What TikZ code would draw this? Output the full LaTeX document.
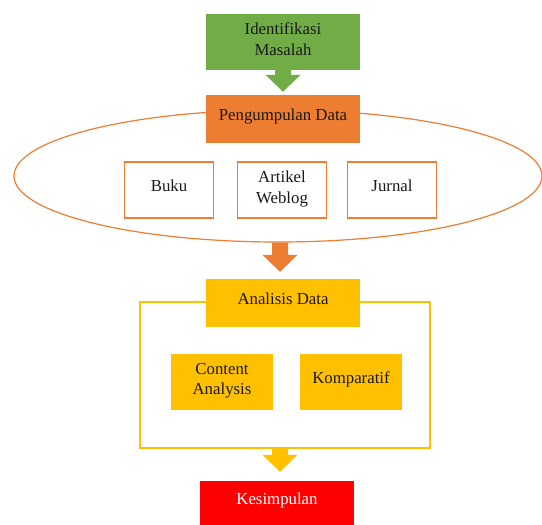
\documentclass[tikz,border=0pt]{standalone}
\usepackage{fontspec}
\setmainfont{Liberation Serif}
\usetikzlibrary{shapes.geometric}
\usetikzlibrary{calc}
\definecolor{stepgreen}{HTML}{70AD47}
\definecolor{steporange}{HTML}{ED7D31}
\definecolor{stepyellow}{HTML}{FFC000}
\definecolor{stepred}{HTML}{FF0000}
\tikzset{stage/.style={
  align=center, inner sep=0pt, text=black!90, text depth=6pt,
  font=\fontsize{16.8}{20.5}\selectfont
}}
\tikzset{oneline/.style={text height=8pt, text depth=6pt}}
\tikzset{source/.style={
  stage, draw=steporange, line width=1.5pt, fill=white,
  minimum width=89, minimum height=56
}}
\tikzset{method/.style={
  stage, fill=stepyellow, minimum width=102, minimum height=56
}}
\newcommand{\blockarrow}[3]{%
  \fill[#1] ($(#2)+(-8,0)$) -- ($(#3)+(-8,-17)$) -- ($(#3)+(-17.5,-17)$)
    -- (#3) -- ($(#3)+(17.5,-17)$) -- ($(#3)+(8,-17)$) -- ($(#2)+(8,0)$) -- cycle;}

\begin{document}
\begin{tikzpicture}[x=1pt,y=-1pt]
    \useasboundingbox (0,0) rectangle (542,525);
    \node[draw=steporange, line width=1.2pt, ellipse, minimum width=528,
      minimum height=132] (pool) at (278,176) {};
    \node[stage, fill=stepgreen, minimum width=154, minimum height=56]
      (ident) at (283,42) {Identifikasi\\Masalah};
    \node[stage, oneline, fill=steporange, minimum width=154, minimum height=48]
      (collect) at (283,119) {Pengumpulan Data};
    \node[source, oneline] (buku) at (169,190) {Buku};
    \node[source] (artikel) at (282,190) {Artikel\\Weblog};
    \node[source, oneline] (jurnal) at (392,190) {Jurnal};
    \node[draw=stepyellow, line width=1.5pt, minimum width=290,
      minimum height=146] (frame) at (285,375) {};
    \node[stage, oneline, fill=stepyellow, minimum width=154, minimum height=48]
      (analysis) at (283,303) {Analisis Data};
    \node[method] (content) at (222,382) {Content\\Analysis};
    \node[method, oneline] (kompar) at (351,382) {Komparatif};
    \node[stage, oneline, fill=stepred, text=white, minimum width=154,
      minimum height=44] (conclude) at (277,503) {Kesimpulan};
    \coordinate (tip1) at ($(collect.north)+(0,-3)$);
    \coordinate (tip2) at ($(analysis.north)+(-3,-7)$);
    \coordinate (base2) at (pool.south -| tip2);
    \coordinate (tip3) at ($(conclude.north)+(3,-9)$);
    \coordinate (base3) at (frame.south -| tip3);
    \blockarrow{stepgreen}{ident.south}{tip1}
    \blockarrow{steporange}{base2}{tip2}
    \blockarrow{stepyellow}{base3}{tip3}
\end{tikzpicture}
\end{document}
